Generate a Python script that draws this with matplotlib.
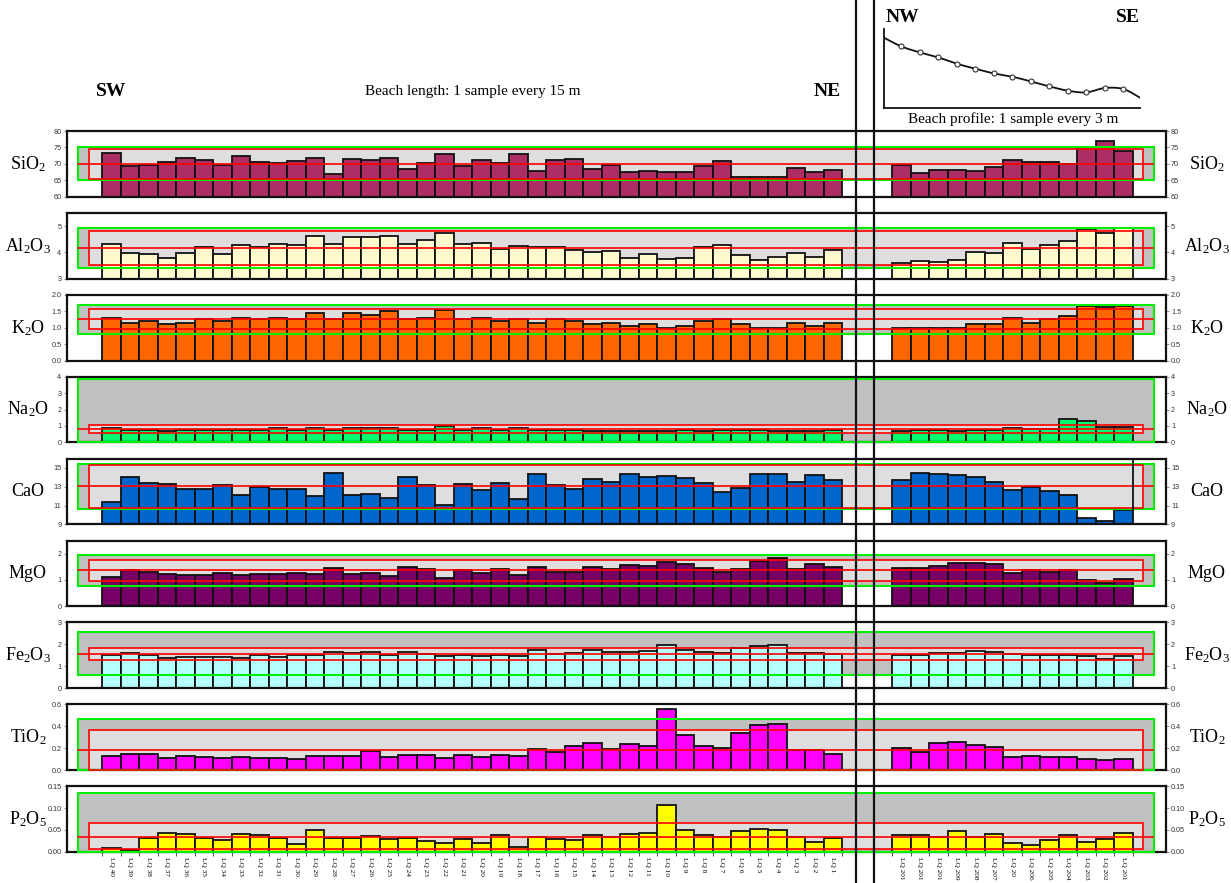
import numpy as np
import matplotlib
matplotlib.use("Agg")
import matplotlib.pyplot as plt
from matplotlib.patches import Rectangle
from matplotlib.lines import Line2D
from matplotlib.ticker import FormatStrFormatter, FixedLocator

plt.rcParams['font.family'] = ['Liberation Serif', 'DejaVu Serif']
plt.rcParams['mathtext.default'] = 'regular'

# ---------------- sample names ----------------
shore_labels = [f"LQ {n}" for n in range(40, 0, -1)]
profile_labels = ["LQ 201", "LQ 201", "LQ 201", "LQ 209", "LQ 208", "LQ 207", "LQ 20",
                  "LQ 206", "LQ 205", "LQ 204", "LQ 203", "LQ 202", "LQ 201"]

# ---------------- oxide contents (wt %) ----------------
sio2_shore = [73.4, 69.2, 69.7, 70.5, 71.9, 71.2, 69.7, 72.4, 70.7, 70.2, 70.8, 71.8, 67.0, 71.6,
              71.1, 71.7, 68.5, 70.2, 73.0, 69.2, 71.3, 70.2, 73.0, 67.9, 71.1, 71.6, 68.4, 69.5,
              67.5, 67.8, 67.5, 67.6, 69.3, 70.8, 65.9, 65.9, 66.1, 68.7, 67.6, 68.2]
sio2_profile = [69.6, 67.3, 68.0, 68.0, 67.8, 68.9, 71.3, 70.5, 70.6, 70.1, 75.2, 76.9, 73.8]

al2o3_shore = [4.33, 3.99, 3.94, 3.79, 3.99, 4.19, 3.95, 4.27, 4.22, 4.31, 4.27, 4.64, 4.33, 4.58,
               4.60, 4.64, 4.33, 4.47, 4.75, 4.31, 4.34, 4.11, 4.24, 4.19, 4.21, 4.07, 4.02, 4.06,
               3.77, 3.94, 3.74, 3.80, 4.21, 4.27, 3.91, 3.72, 3.84, 3.99, 3.84, 4.07]
al2o3_profile = [3.59, 3.68, 3.62, 3.69, 4.02, 3.98, 4.35, 4.12, 4.28, 4.43, 4.87, 4.75, 4.94]

k2o_shore = [1.30, 1.15, 1.20, 1.10, 1.15, 1.25, 1.20, 1.30, 1.25, 1.30, 1.25, 1.45, 1.25, 1.45,
             1.40, 1.50, 1.25, 1.30, 1.55, 1.25, 1.30, 1.20, 1.25, 1.15, 1.25, 1.20, 1.10, 1.15,
             1.05, 1.10, 1.00, 1.05, 1.20, 1.25, 1.10, 1.00, 1.00, 1.15, 1.05, 1.15]
k2o_profile = [1.00, 1.00, 0.98, 0.98, 1.10, 1.10, 1.30, 1.15, 1.25, 1.35, 1.65, 1.62, 1.65]

na2o_shore = [0.88, 0.74, 0.74, 0.72, 0.74, 0.74, 0.76, 0.74, 0.74, 0.88, 0.74, 0.90, 0.74, 0.86,
              0.86, 0.88, 0.74, 0.76, 1.02, 0.74, 0.86, 0.74, 0.88, 0.74, 0.74, 0.74, 0.72, 0.72,
              0.72, 0.72, 0.70, 0.74, 0.68, 0.74, 0.74, 0.74, 0.72, 0.72, 0.72, 0.74]
na2o_profile = [0.72, 0.76, 0.76, 0.72, 0.76, 0.76, 0.86, 0.84, 0.82, 1.41, 1.33, 0.94, 0.94]

cao_shore = [11.38, 14.00, 13.44, 13.33, 12.76, 12.80, 13.22, 12.09, 12.98, 12.76, 12.76, 12.02,
             14.50, 12.09, 12.19, 11.77, 14.00, 13.15, 11.02, 13.30, 12.69, 13.37, 11.70, 14.32,
             13.19, 12.74, 13.79, 13.51, 14.36, 14.08, 14.10, 13.93, 13.40, 12.41, 12.90, 14.40,
             14.40, 13.51, 14.22, 13.76]
cao_profile = [13.76, 14.43, 14.36, 14.22, 14.08, 13.47, 12.69, 12.98, 12.59, 12.12, 9.67, 9.36, 10.56]

mgo_shore = [1.12, 1.39, 1.32, 1.22, 1.20, 1.20, 1.26, 1.17, 1.22, 1.21, 1.26, 1.23, 1.45, 1.22,
             1.28, 1.16, 1.48, 1.40, 1.09, 1.39, 1.27, 1.41, 1.20, 1.51, 1.31, 1.32, 1.50, 1.42,
             1.55, 1.53, 1.70, 1.60, 1.46, 1.31, 1.43, 1.72, 1.84, 1.42, 1.59, 1.49]
mgo_profile = [1.44, 1.44, 1.54, 1.65, 1.63, 1.59, 1.28, 1.39, 1.31, 1.39, 1.00, 0.88, 1.02]

fe2o3_shore = [1.50, 1.61, 1.50, 1.39, 1.42, 1.42, 1.42, 1.39, 1.53, 1.42, 1.53, 1.53, 1.67, 1.58,
               1.64, 1.49, 1.65, 1.55, 1.45, 1.51, 1.48, 1.53, 1.46, 1.73, 1.56, 1.62, 1.73, 1.65,
               1.67, 1.68, 1.99, 1.76, 1.65, 1.58, 1.81, 1.94, 1.97, 1.58, 1.62, 1.56]
fe2o3_profile = [1.50, 1.50, 1.60, 1.62, 1.70, 1.65, 1.55, 1.50, 1.50, 1.50, 1.45, 1.35, 1.45]

tio2_shore = [0.131, 0.143, 0.143, 0.110, 0.125, 0.119, 0.107, 0.119, 0.107, 0.107, 0.104, 0.131,
              0.131, 0.125, 0.173, 0.116, 0.140, 0.140, 0.113, 0.134, 0.119, 0.140, 0.128, 0.192,
              0.161, 0.216, 0.250, 0.192, 0.234, 0.219, 0.554, 0.323, 0.219, 0.198, 0.341, 0.408,
              0.420, 0.186, 0.186, 0.149]
tio2_profile = [0.20, 0.16, 0.25, 0.26, 0.23, 0.21, 0.12, 0.13, 0.12, 0.12, 0.10, 0.09, 0.10]

p2o5_shore = [0.008, 0.004, 0.032, 0.043, 0.041, 0.032, 0.027, 0.041, 0.038, 0.032, 0.017, 0.050,
              0.032, 0.031, 0.037, 0.030, 0.032, 0.026, 0.021, 0.030, 0.020, 0.038, 0.011, 0.033,
              0.030, 0.027, 0.038, 0.033, 0.041, 0.044, 0.107, 0.050, 0.039, 0.034, 0.047, 0.052,
              0.051, 0.033, 0.023, 0.031]
p2o5_profile = [0.038, 0.038, 0.033, 0.048, 0.033, 0.040, 0.020, 0.015, 0.027, 0.038, 0.022,
                0.030, 0.043]

# mean, inner band (low, high), outer band (low, high)
sio2_band = (70.0, (65.4, 74.4), (65.0, 75.0))
al2o3_band = (4.16, (3.50, 4.81), (3.41, 4.91))
k2o_band = (1.26, (0.95, 1.58), (0.80, 1.70))
na2o_band = (0.82, (0.55, 1.08), (0.0, 3.84))
cao_band = (13.05, (10.78, 15.36), (10.67, 15.46))
mgo_band = (1.36, (0.97, 1.76), (0.78, 1.96))
fe2o3_band = (1.57, (1.30, 1.84), (0.60, 2.54))
tio2_band = (0.18, (0.0, 0.365), (0.0, 0.463))
p2o5_band = (0.0346, (0.0055, 0.0649), (0.0, 0.1347))

# beach profile elevation (relative units) at the profile samples, plus the two ends
profile_elev = [6.13, 5.53, 5.03, 4.40, 3.90, 3.43, 3.10, 2.63, 2.13, 1.70, 1.53, 1.97, 1.87]
profile_start, profile_end = 7.0, 1.0

# ---------------- layout ----------------
W, H = 1231, 883
fig = plt.figure(figsize=(W / 100, H / 100), dpi=100)


def fx(px):
    return px / W


def fy(py):
    return 1 - py / H


AX_L, AX_R = 67, 1165.5
UNIT = 18.5                      # pixels per sample slot
XMAX = (AX_R - AX_L) / UNIT
shore_x = (102 - AX_L) / UNIT + 0.5 + np.arange(len(shore_labels))
profile_x = (892 - AX_L) / UNIT + 0.5 + np.arange(len(profile_labels))
GX0, GX1 = (78 - AX_L) / UNIT, (1154 - AX_L) / UNIT
RX0, RX1 = (89 - AX_L) / UNIT, (1143 - AX_L) / UNIT
MX1 = (1153 - AX_L) / UNIT

PANEL_TOP0, PANEL_STEP, PANEL_H = 131, 81.9, 65.7

panels = [
    ("SiO$_2$", sio2_shore, sio2_profile, "#AE2D64", (60, 80), [60, 65, 70, 75, 80], "%d", sio2_band),
    ("Al$_2$O$_3$", al2o3_shore, al2o3_profile, "#FFFBCF", (3, 5.5), [3, 4, 5], "%d", al2o3_band),
    ("K$_2$O", k2o_shore, k2o_profile, "#FF6600", (0, 2), [0, 0.5, 1, 1.5, 2], "%.1f", k2o_band),
    ("Na$_2$O", na2o_shore, na2o_profile, "#00FA6E", (0, 4), [0, 1, 2, 3, 4], "%d", na2o_band),
    ("CaO", cao_shore, cao_profile, "#0066CC", (9, 16), [9, 11, 13, 15], "%d", cao_band),
    ("MgO", mgo_shore, mgo_profile, "#760064", (0, 2.5), [0, 1, 2], "%d", mgo_band),
    ("Fe$_2$O$_3$", fe2o3_shore, fe2o3_profile, "#B5FFFF", (0, 3), [0, 1, 2, 3], "%d", fe2o3_band),
    ("TiO$_2$", tio2_shore, tio2_profile, "#FF00FF", (0, 0.6), [0, 0.2, 0.4, 0.6], "%.1f", tio2_band),
    ("P$_2$O$_5$", p2o5_shore, p2o5_profile, "#FFFF00", (0, 0.15), [0, 0.05, 0.10, 0.15], "%.2f", p2o5_band),
]

axes = []
for k, (name, shore, prof, color, ylim, ticks, fmt, band) in enumerate(panels):
    top = PANEL_TOP0 + k * PANEL_STEP
    ax = fig.add_axes([fx(AX_L), fy(top + PANEL_H), fx(AX_R) - fx(AX_L), PANEL_H / H])
    ax.set_xlim(0, XMAX)
    ax.set_ylim(*ylim)
    y0 = ylim[0]
    mean, inner, outer = band

    # filled bands
    ax.add_patch(Rectangle((GX0, outer[0]), GX1 - GX0, outer[1] - outer[0],
                           facecolor="#C0C0C0", edgecolor="none", zorder=0.5))
    ax.add_patch(Rectangle((RX0, inner[0]), RX1 - RX0, inner[1] - inner[0],
                           facecolor="#DEDEDE", edgecolor="none", zorder=0.6))

    # bars
    for xs, vals in ((shore_x, shore), (profile_x, prof)):
        v = np.asarray(vals, dtype=float)
        ax.bar(xs, v - y0, bottom=y0, width=1.0, color=color, edgecolor="#111111",
               linewidth=1.3, zorder=2)

    # band outlines and mean line
    ax.add_patch(Rectangle((GX0, outer[0]), GX1 - GX0, outer[1] - outer[0],
                           fill=False, edgecolor="#00EE00", linewidth=1.5, zorder=3, clip_on=False))
    ax.add_patch(Rectangle((RX0, inner[0]), RX1 - RX0, inner[1] - inner[0],
                           fill=False, edgecolor="#FF0000", linewidth=1.2, zorder=3.1, clip_on=False))
    ax.plot([GX0, MX1], [mean, mean], color="#FF0000", linewidth=1.2, zorder=3.2)

    for sp in ax.spines.values():
        sp.set_linewidth(1.6)
        sp.set_color("#111111")

    ax.yaxis.set_major_locator(FixedLocator(ticks))
    ax.yaxis.set_major_formatter(FormatStrFormatter(fmt))
    ax.tick_params(axis="y", which="both", left=True, right=True, labelleft=True, labelright=True,
                   length=2, width=0.5, pad=2, labelsize=5.2, labelcolor="#333333", color="#666666")
    for lab in ax.get_yticklabels():
        lab.set_family("Liberation Sans")
    ax.set_xticks([])

    cy = fy(top + PANEL_H / 2)
    fig.text(fx(28), cy, name, ha="center", va="center", fontsize=13)
    fig.text(fx(1207), cy, name, ha="center", va="center", fontsize=13)
    axes.append(ax)

# stray vertical stroke at the last CaO bar
ax_cao = axes[4]
ax_cao.plot([profile_x[-1] + 0.5] * 2, [cao_profile[-1], ax_cao.get_ylim()[1]],
            color="#111111", linewidth=1.3, zorder=3.3)

# sample labels under the bottom panel
axb = axes[-1]
all_x = np.concatenate([shore_x, profile_x])
axb.set_xticks(all_x)
axb.set_xticklabels(shore_labels + profile_labels, rotation=270, fontsize=5.3, va="top", ha="center")
axb.tick_params(axis="x", which="major", length=0, pad=4)
edges = np.concatenate([shore_x - 0.5, [shore_x[-1] + 0.5], profile_x - 0.5, [profile_x[-1] + 0.5]])
axb.xaxis.set_minor_locator(FixedLocator(edges))
axb.tick_params(axis="x", which="minor", length=3, width=0.6, color="#333333")

# ---------------- beach profile inset ----------------
IN_L, IN_R, IN_T, IN_B = 884, 1140, 29, 107.7
axp = fig.add_axes([fx(IN_L), fy(IN_B), fx(IN_R) - fx(IN_L), (IN_B - IN_T) / H])
px0, px1 = (IN_L - AX_L) / UNIT, (IN_R - AX_L) / UNIT
axp.set_xlim(px0, px1)
axp.set_ylim(0, (IN_B - IN_T) / 10)


def catmull_rom(xp, yp, n=24):
    P = np.column_stack([xp, yp])
    P = np.vstack([P[0], P, P[-1]])
    segs = []
    t = np.linspace(0, 1, n, endpoint=False)[:, None]
    for i in range(1, len(P) - 2):
        p0, p1, p2, p3 = P[i - 1], P[i], P[i + 1], P[i + 2]
        segs.append(0.5 * (2 * p1 + (-p0 + p2) * t + (2 * p0 - 5 * p1 + 4 * p2 - p3) * t ** 2
                           + (-p0 + 3 * p1 - 3 * p2 + p3) * t ** 3))
    segs.append(P[-2][None, :])
    return np.vstack(segs)


line_x = np.concatenate([[px0], profile_x, [px1]])
line_y = np.concatenate([[profile_start], profile_elev, [profile_end]])
curve = catmull_rom(line_x, line_y)
axp.plot(curve[:, 0], curve[:, 1], color="#111111", linewidth=1.3, zorder=2)
axp.plot(profile_x, profile_elev, linestyle="none", marker="o", markersize=3.6,
         markerfacecolor="white", markeredgecolor="#333333", markeredgewidth=0.8, zorder=3)
for s in ("top", "right"):
    axp.spines[s].set_visible(False)
for s in ("left", "bottom"):
    axp.spines[s].set_linewidth(1.3)
    axp.spines[s].set_color("#111111")
axp.set_xticks([])
axp.set_yticks([])
axp.patch.set_alpha(0)

# ---------------- headings ----------------
fig.text(fx(111), fy(92), "SW", ha="center", va="center", fontsize=14, fontweight="bold")
fig.text(fx(827), fy(92), "NE", ha="center", va="center", fontsize=14, fontweight="bold")
fig.text(fx(473), fy(92), "Beach length: 1 sample every 15 m", ha="center", va="center", fontsize=11)
fig.text(fx(902), fy(18), "NW", ha="center", va="center", fontsize=14, fontweight="bold")
fig.text(fx(1128), fy(18), "SE", ha="center", va="center", fontsize=14, fontweight="bold")
fig.text(fx(1013), fy(119), "Beach profile: 1 sample every 3 m", ha="center", va="center", fontsize=11)

# divider between the beach-length and beach-profile sections
for xv in (856, 873.5):
    fig.add_artist(Line2D([fx(xv), fx(xv)], [0, 1], transform=fig.transFigure,
                          color="#111111", linewidth=1.6, zorder=10))

fig.savefig("out.png", dpi=100)
